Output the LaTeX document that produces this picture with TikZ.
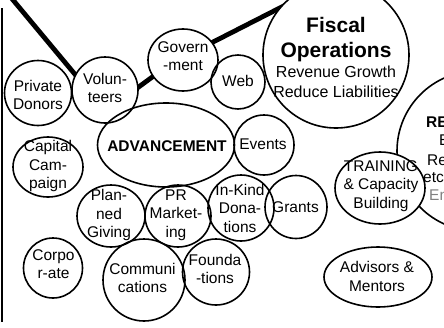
\documentclass[tikz,border=0pt]{standalone}
\usepackage{fontspec}
\setmainfont{Liberation Sans}
\usetikzlibrary{shapes.geometric}
\begin{document}
\begin{tikzpicture}[x=1pt,y=-1pt,
  bub/.style={ellipse,draw,line width=1.6pt,inner sep=0pt},
  wbub/.style={bub,fill=white},
  lbl/.style={align=center,inner sep=0pt,font=\fontsize{15.5}{18.5}\selectfont},
  rel/.style={anchor=base west,inner sep=0pt,font=\fontsize{15.5}{18.5}\selectfont},
  fisbig/.style={anchor=base,inner sep=0pt,font=\fontsize{21}{25}\selectfont\bfseries},
  fissmall/.style={anchor=base,inner sep=0pt,font=\fontsize{16}{19}\selectfont},
  thickline/.style={line width=4.8pt,line join=miter},
  edgeline/.style={line width=2pt}]
\useasboundingbox (0,0) rectangle (444,327);
% left rule
\coordinate (e0) at (1.5,8);
\coordinate (e1) at (1.5,322);
\draw[edgeline] (e0) -- (e1);
% thick connector
\coordinate (l0) at (3,-12);
\coordinate (l1) at (105.7,111.2);
\coordinate (l2) at (170,64);
\coordinate (l3) at (315,-10);
\draw[thickline] (l0) -- (l1) -- (l2) -- (l3);
% filled bubbles covering the connector
\node[wbub,minimum width=66,minimum height=66] (vol) at (105,90) {};
\node[wbub,minimum width=70,minimum height=62] (gov) at (183,60) {};
\node[wbub,minimum width=146,minimum height=146] (fis) at (336,55) {};
% resources bubble (behind training)
\node[bub,minimum width=160,minimum height=160] (res) at (477,151) {};
\node[rel,font=\fontsize{15.5}{18.5}\selectfont\bfseries] (res1) at (426,127) {RE};
\node[rel] (res2) at (439,145) {E};
\node[rel] (res3) at (427,165) {Re};
\node[rel] (res4) at (423,182) {etc};
\node[rel,text=gray] (res5) at (429,200) {En};
\node[wbub,minimum width=90,minimum height=72] (trn) at (380,188) {};
% other bubbles
\node[bub,minimum width=67,minimum height=65] (priv) at (38,93) {};
\node[bub,minimum width=54,minimum height=54] (web) at (238,82) {};
\node[bub,minimum width=137,minimum height=84] (adv) at (166,145) {};
\node[bub,minimum width=60,minimum height=60] (evt) at (264,145) {};
\node[bub,minimum width=70,minimum height=60] (cap) at (48,167) {};
\node[bub,minimum width=68,minimum height=62] (plan) at (111,216) {};
\node[bub,minimum width=66,minimum height=62] (pr) at (178,216) {};
\node[bub,minimum width=66,minimum height=66] (ink) at (241,208) {};
\node[bub,minimum width=62,minimum height=63] (gra) at (296,207) {};
\node[bub,minimum width=67,minimum height=66] (fnd) at (216,272) {};
\node[bub,minimum width=82,minimum height=82] (com) at (144,280) {};
\node[bub,minimum width=59,minimum height=60] (cor) at (53,268) {};
\node[bub,minimum width=108,minimum height=60] (adm) at (378,277) {};
% labels
\node[lbl] (volt) at (105,88) {Volun-\\teers};
\node[lbl] (govt) at (183,56) {Govern\\-ment};
\node[fisbig] (fis1) at (336,32) {Fiscal};
\node[fisbig] (fis2) at (336,57) {Operations};
\node[fissmall] (fis3) at (336,77) {Revenue Growth};
\node[fissmall] (fis4) at (336,97) {Reduce Liabilities};
\node[lbl] (trnt) at (381,186) {TRAINING\\\&~Capacity\\Building};
\node[lbl] (privt) at (38,95) {Private\\Donors};
\node[lbl] (webt) at (238,81) {Web};
\node[lbl,font=\fontsize{15.5}{18.5}\selectfont\bfseries] (advt) at (167,146) {ADVANCEMENT};
\node[lbl] (evtt) at (263,144) {Events};
\node[lbl] (capt) at (48,166) {Capital\\Cam-\\paign};
\node[lbl] (plant) at (109,215) {Plan-\\ned\\Giving};
\node[lbl] (prt) at (176,215) {PR\\Market-\\ing};
\node[lbl] (inkt) at (240,208) {In-Kind\\Dona-\\tions};
\node[lbl] (grat) at (295.5,207) {Grants};
\node[lbl] (fndt) at (215,269) {Founda\\-tions};
\node[lbl] (comt) at (142.5,278) {Communi\\cations};
\node[lbl] (cort) at (53.5,264) {Corpo\\r-ate};
\node[lbl] (admt) at (377,276.5) {Advisors \&\\Mentors};
\end{tikzpicture}
\end{document}
